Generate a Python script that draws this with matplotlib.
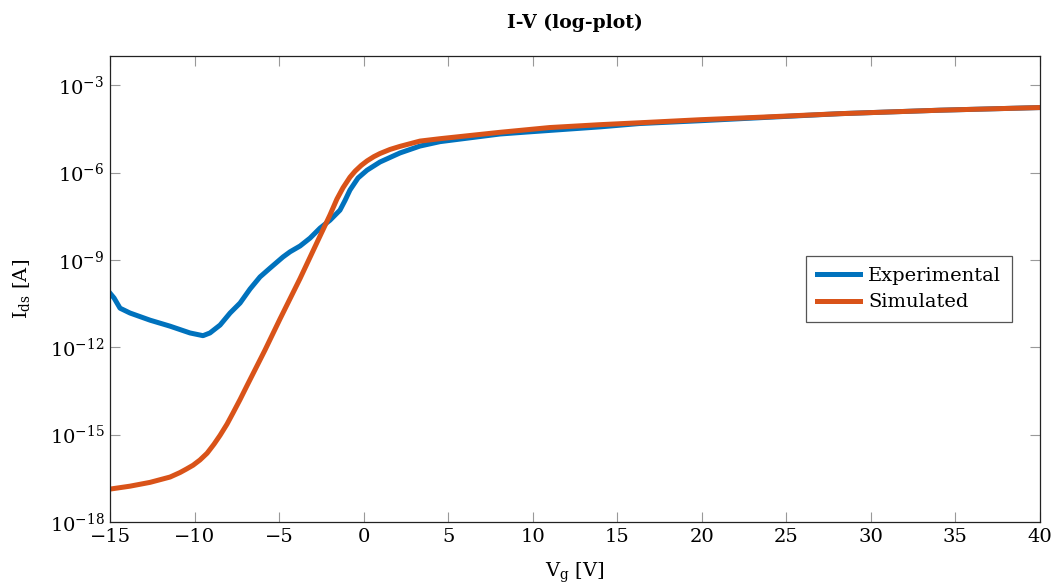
import matplotlib
matplotlib.use("Agg")
import matplotlib.pyplot as plt
from matplotlib.ticker import FixedLocator, NullLocator, LogFormatterMathtext

# experimental curve
vg_exp = [-15.0, -14.76, -14.41, -13.82, -12.63, -11.45, -10.27, -9.5, -9.09,
          -8.49, -7.9, -7.31, -6.72, -6.13, -5.54, -4.77, -4.35, -3.76, -3.17,
          -2.58, -1.99, -1.4, -1.1, -0.81, -0.33, 0.2, 0.97, 2.15, 3.33, 4.52,
          8.06, 9.84, 14.0, 16.3, 19.9, 23.4, 28.2, 34.1, 40.0]
ids_exp = [7.2e-11, 4.9e-11, 2.2e-11, 1.5e-11, 8.5e-12, 5.3e-12, 3.1e-12, 2.5e-12, 3.1e-12,
           5.8e-12, 1.5e-11, 3.3e-11, 1.0e-10, 2.6e-10, 5.2e-10, 1.26e-9, 1.9e-9, 3.0e-9, 5.6e-9,
           1.23e-8, 2.3e-8, 5.1e-8, 1.1e-7, 2.5e-7, 6.5e-7, 1.2e-6, 2.3e-6, 4.7e-6, 8.1e-6, 1.15e-5,
           2.1e-5, 2.5e-5, 3.7e-5, 4.8e-5, 6.0e-5, 7.6e-5, 1.05e-4, 1.38e-4, 1.7e-4]

# simulated curve
vg_sim = [-15.0, -13.82, -12.63, -11.45, -10.86, -10.5, -10.09, -9.68, -9.26, -8.85,
          -8.49, -8.08, -7.73, -7.31, -6.9, -5.84, -4.95, -3.76, -2.58, -1.99,
          -1.58, -1.22, -0.81, -0.5, -0.15, 0.2, 0.6, 0.97, 1.56, 2.15, 3.33, 4.52,
          8.06, 11.0, 14.0, 16.3, 19.9, 23.4, 28.2, 34.1, 40.0]
ids_sim = [1.35e-17, 1.7e-17, 2.3e-17, 3.5e-17, 5.0e-17, 6.5e-17, 8.9e-17, 1.35e-16, 2.3e-16, 4.7e-16,
           9.5e-16, 2.3e-15, 5.5e-15, 1.6e-14, 4.8e-14, 7.9e-13, 9.3e-12, 2.3e-10, 6.6e-9, 3.5e-8,
           1.23e-7, 3.0e-7, 6.9e-7, 1.12e-6, 1.74e-6, 2.5e-6, 3.5e-6, 4.5e-6, 6.2e-6, 7.9e-6, 1.2e-5, 1.45e-5,
           2.4e-5, 3.5e-5, 4.4e-5, 5.1e-5, 6.5e-5, 7.9e-5, 1.05e-4, 1.38e-4, 1.7e-4]

x_ticks = [-15, -10, -5, 0, 5, 10, 15, 20, 25, 30, 35, 40]
y_ticks = [1e-18, 1e-15, 1e-12, 1e-9, 1e-6, 1e-3]

plt.rcParams["font.family"] = ["DejaVu Serif"]
plt.rcParams["mathtext.fontset"] = "dejavuserif"
plt.rcParams["font.size"] = 14

fig = plt.figure(figsize=(10.59, 5.86), dpi=100)
ax = fig.add_axes([0.1039, 0.1092, 0.8781, 0.7952])

ax.plot(vg_exp, ids_exp, color="#0072BD", linewidth=3.6, label="Experimental",
        solid_joinstyle="round")
ax.plot(vg_sim, ids_sim, color="#D95319", linewidth=3.6, label="Simulated",
        solid_joinstyle="round")

ax.set_yscale("log")
ax.set_xlim(-15, 40)
ax.set_ylim(1e-18, 1e-2)
ax.xaxis.set_major_locator(FixedLocator(x_ticks))
ax.yaxis.set_major_locator(FixedLocator(y_ticks))
ax.yaxis.set_major_formatter(LogFormatterMathtext())
ax.yaxis.set_minor_locator(NullLocator())
ax.xaxis.set_minor_locator(NullLocator())

ax.tick_params(direction="in", length=7, width=0.8, color="#999999",
               top=True, right=True, labelcolor="black", pad=4)
for s in ax.spines.values():
    s.set_linewidth(0.9)
    s.set_color("#222222")

ax.set_title("I-V (log-plot)", fontweight="bold", fontsize=13.5, pad=20)
ax.set_xlabel(r"V$_\mathrm{g}$ [V]", labelpad=11)
ax.set_ylabel(r"I$_\mathrm{ds}$ [A]", labelpad=13)

leg = ax.legend(loc="center right", bbox_to_anchor=(0.97, 0.5), fancybox=False,
                framealpha=1, edgecolor="#555555", handlelength=2.2,
                borderpad=0.55, labelspacing=0.45, handletextpad=0.45,
                borderaxespad=0)
leg.get_frame().set_linewidth(0.9)

plt.savefig("out.png", dpi=100)
